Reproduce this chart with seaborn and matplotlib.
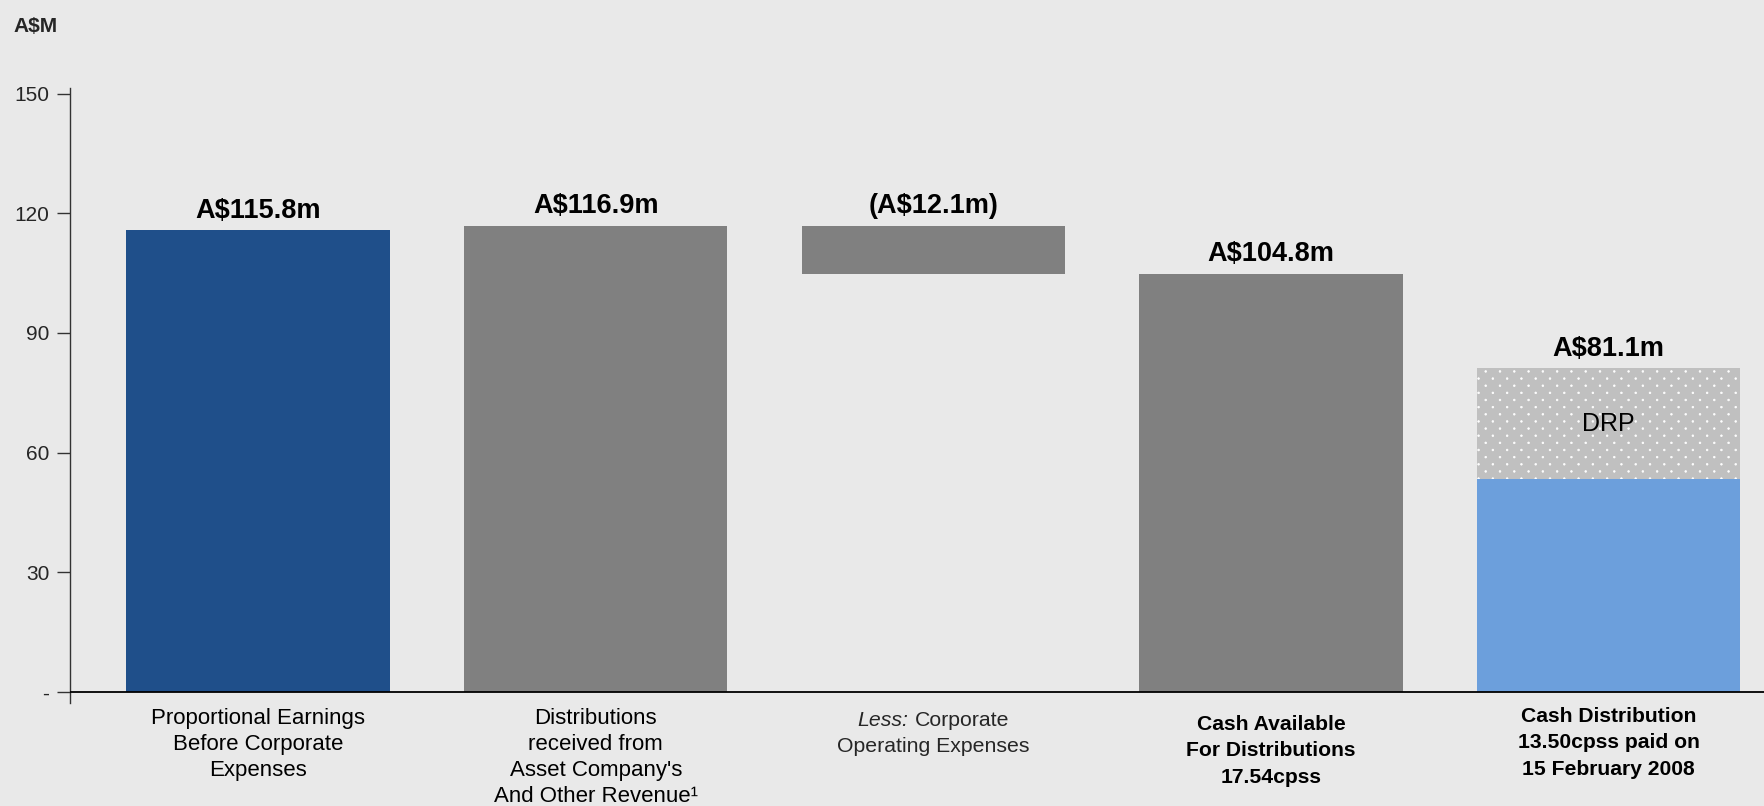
import matplotlib
matplotlib.use("Agg")
import numpy as np
import matplotlib.pyplot as plt
import matplotlib.hatch as mhatch
from matplotlib.path import Path
import seaborn as sns
import pandas as pd

# ---- data -------------------------------------------------------------
categories = ["Earnings", "Distributions", "Corporate", "Available", "Paid"]
bar_base = [0.0, 0.0, 104.8, 0.0, 0.0]
bar_height = [115.8, 116.9, 12.1, 104.8, 53.3]
drp_height = [27.8]                       # DRP portion on top of the paid cash
value_labels = ["A$115.8m", "A$116.9m", "(A$12.1m)", "A$104.8m", "A$81.1m"]
category_labels = [
    "Proportional Earnings\nBefore Corporate\nExpenses",
    "Distributions\nreceived from\nAsset Company's\nAnd Other Revenue\u00b9",
    None,                                  # built from pieces below (italic prefix)
    "Cash Available\nFor Distributions\n17.54cpss",
    "Cash Distribution\n13.50cpss paid on\n15 February 2008",
]
corp_prefix = "Less:"
corp_line1 = "Corporate"
corp_line2 = "Operating Expenses"
y_ticks = [0, 30, 60, 90, 120, 150]
y_tick_labels = ["-", "30", "60", "90", "120", "150"]


# ---- a dotted fill: staggered rows of small filled dots -----------------
class _StaggeredDots(mhatch.HatchPatternBase):
    per_row = 7          # dots across one hatch tile
    radius = 0.0085      # in tile units

    def __init__(self, hatch, density):
        n = self.per_row if hatch.count(".") else 0
        self.n = n
        circle = Path.unit_circle()
        self.shape_vertices = circle.vertices
        self.shape_codes = circle.codes
        if n == 0:
            self.num_shapes = 0
            self.num_vertices = 0
        else:
            self.num_shapes = (n + 1) * (n + 1) + n * n
            self.num_vertices = self.num_shapes * len(self.shape_vertices)

    def set_vertices_and_codes(self, vertices, codes):
        n = self.n
        step = 1.0 / n
        verts = self.shape_vertices * self.radius
        v_parts, c_parts = [], []
        for row in range(2 * n + 1):
            if row % 2 == 0:
                cols = np.linspace(0, 1, n + 1)
            else:
                cols = np.linspace(step / 2, 1 - step / 2, n)
            for cx in cols:
                v_parts.append(verts + [cx, row * step / 2])
                c_parts.append(self.shape_codes)
        np.concatenate(v_parts, out=vertices)
        np.concatenate(c_parts, out=codes)


mhatch._hatch_types = [
    _StaggeredDots if t is mhatch.SmallFilledCircles else t
    for t in mhatch._hatch_types
]

# ---- styling ----------------------------------------------------------
BG = "#e9e9e9"
bar_colors = ["#1f4f8a", "#808080", "#808080", "#808080", "#6c9fdc"]
DRP_COLOR = "#c0c0c0"

sns.set_style("white", rc={"axes.facecolor": BG, "figure.facecolor": BG})
plt.rcParams["font.family"] = ["Liberation Sans", "DejaVu Sans"]
plt.rcParams["hatch.color"] = "white"
plt.rcParams["hatch.linewidth"] = 0.5

fig = plt.figure(figsize=(17.64, 8.06), dpi=100)
ax = fig.add_axes([70 / 1764, 103 / 806, 1 - 70 / 1764, 615 / 806])

df = pd.DataFrame({"category": categories, "height": bar_height})
sns.barplot(data=df, x="category", y="height", order=categories,
            color="#808080", width=0.78, bottom=bar_base,
            linewidth=0, saturation=1, ax=ax)
for patch, c in zip(ax.patches, bar_colors):
    patch.set_facecolor(c)

# stacked DRP segment on the last bar
drp_df = pd.DataFrame({"category": categories[-1:], "height": drp_height})
n_before = len(ax.patches)
sns.barplot(data=drp_df, x="category", y="height", order=categories,
            color=DRP_COLOR, width=0.78, bottom=[bar_height[-1]],
            linewidth=0, saturation=1, ax=ax)
for patch in ax.patches[n_before:]:
    patch.set_facecolor(DRP_COLOR)
    patch.set_edgecolor("white")
    patch.set_hatch(".")
    patch.set_linewidth(0)

# value labels above each bar
tops = [b + h for b, h in zip(bar_base, bar_height)]
tops[-1] += drp_height[0]
for i, (top, txt) in enumerate(zip(tops, value_labels)):
    ax.annotate(txt, xy=(i, top), xytext=(0, 9), textcoords="offset points",
                ha="center", va="baseline", fontsize=19.5, fontweight="bold",
                color="black")

# DRP label in the middle of its segment
ax.text(len(categories) - 1, bar_height[-1] + drp_height[0] / 2, "DRP",
        ha="center", va="center", fontsize=18, color="black")

# category labels below the axis (dy = top of the text block below the axis, pt)
label_styles = [
    dict(weight="normal", size=16, dy=11.2, ls=1.33),
    dict(weight="normal", size=16, dy=11.2, ls=1.33),
    None,
    dict(weight="bold", size=15.2, dy=16.3, ls=1.50),
    dict(weight="bold", size=15.2, dy=10.8, ls=1.50),
]
for i, (txt, st) in enumerate(zip(category_labels, label_styles)):
    if txt is None:
        continue
    ax.annotate(txt, xy=(i, 0), xytext=(0, -st["dy"]), textcoords="offset points",
                ha="center", va="top", multialignment="center",
                fontweight=st["weight"], fontsize=st["size"],
                linespacing=st["ls"], color="black", annotation_clip=False)

# "Less: Corporate / Operating Expenses" with an italic prefix
corp_x = categories.index("Corporate")
corp_size = 15.3
split = -1.167 * corp_size                 # where the prefix ends, pt from centre
ax.annotate(corp_prefix, xy=(corp_x, 0), xytext=(split, -24.5),
            textcoords="offset points", ha="right", va="baseline",
            fontsize=corp_size, style="italic", annotation_clip=False)
ax.annotate(corp_line1, xy=(corp_x, 0), xytext=(split + 0.278 * corp_size, -24.5),
            textcoords="offset points", ha="left", va="baseline",
            fontsize=corp_size, annotation_clip=False)
ax.annotate(corp_line2, xy=(corp_x, 0), xytext=(0, -43.0),
            textcoords="offset points", ha="center", va="baseline",
            fontsize=corp_size, annotation_clip=False)

# axes
ax.set_xlim(-0.557, 4.46)
ax.set_ylim(-2.76, 151.4)
ax.set_yticks(y_ticks)
ax.set_yticklabels(y_tick_labels, fontsize=15)
ax.set_xticks([])
ax.set_xlabel("")
ax.set_ylabel("")
for side in ["top", "right", "bottom"]:
    ax.spines[side].set_visible(False)
ax.spines["left"].set_color("#333333")
ax.spines["left"].set_linewidth(1.0)
ax.tick_params(axis="y", direction="out", length=9.5, width=1.0,
               color="#333333", pad=5.5, left=True)
ax.axhline(0, color="black", linewidth=1.3, zorder=5)

fig.text(13 / 1764, 1 - 32 / 806, "A$M", fontsize=15, fontweight="bold",
         ha="left", va="baseline")

fig.savefig("out.png", dpi=100, facecolor=BG)
